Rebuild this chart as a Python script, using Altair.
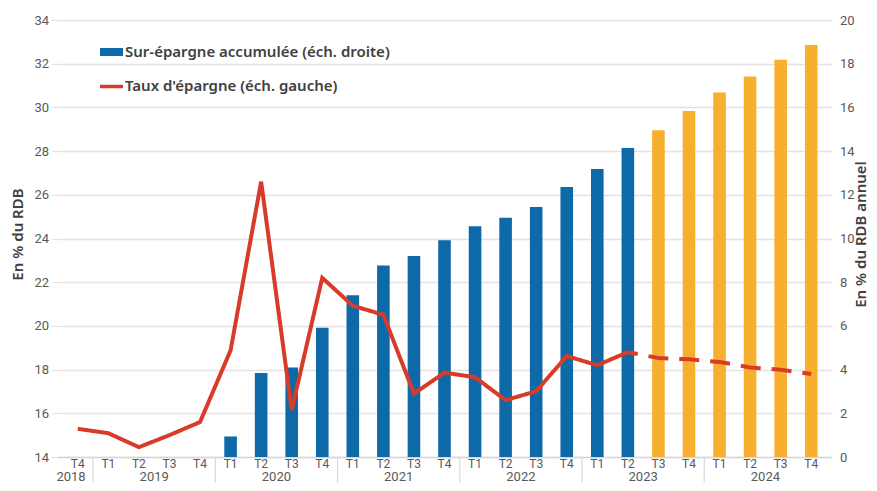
import altair as alt
import pandas as pd

# ---- data ----
quarters = ["T4",
            "T1", "T2", "T3", "T4",
            "T1", "T2", "T3", "T4",
            "T1", "T2", "T3", "T4",
            "T1", "T2", "T3", "T4",
            "T1", "T2", "T3", "T4",
            "T1", "T2", "T3", "T4"]
years = [2018] + [2019] * 4 + [2020] * 4 + [2021] * 4 + [2022] * 4 + [2023] * 4 + [2024] * 4

# Taux d'épargne (% du RDB, left scale)
taux = [15.29, 15.09, 14.45, 15.0, 15.6,
        18.88, 26.6, 16.15, 22.2,
        20.92, 20.51, 16.9, 17.86,
        17.65, 16.6, 17.01, 18.62,
        18.2, 18.8, 18.53, 18.47,
        18.35, 18.1, 17.99, 17.8]

# Sur-épargne accumulée (% du RDB annuel, right scale); None = no bar
sur_epargne = [None, None, None, None, None,
               0.94, 3.85, 4.1, 5.91,
               7.4, 8.76, 9.2, 9.92,
               10.56, 10.95, 11.44, 12.36,
               13.18, 14.14, 14.95, 15.83,
               16.68, 17.41, 18.18, 18.86]

first_forecast = 19          # 2023 T3: first projected quarter
last_observed_rate = 18      # 2023 T2: last observed savings rate

legend_labels = ["Sur-épargne accumulée (éch. droite)", "Taux d'épargne (éch. gauche)"]

BLUE = "#0E69A9"
ORANGE = "#F8AF2F"
RED = "#D93B29"
GRID = "#E3E3E3"
TXT = "#595959"
FONT = "Noto Sans"

W, H = 774, 437
n = len(quarters)

# ---- tables ----
bars_df = pd.DataFrame([
    {"idx": i, "val": v, "kind": "prev" if i >= first_forecast else "obs"}
    for i, v in enumerate(sur_epargne) if v is not None
])

line_rows = []
for i, v in enumerate(taux):
    if i <= last_observed_rate:
        line_rows.append({"idx": i, "taux": v, "seg": "a"})
    if i >= last_observed_rate:
        line_rows.append({"idx": i, "taux": v, "seg": "b"})
line_df = pd.DataFrame(line_rows)

q_df = pd.DataFrame({"idx": list(range(n)), "q": quarters})

yr_df = (pd.DataFrame({"idx": list(range(n)), "year": years})
         .groupby("year", as_index=False)["idx"].agg(["mean", "count"]).reset_index())
# a lone-quarter year label sits slightly left of its column, as in the source
yr_df["pos"] = yr_df["mean"] - 0.22 * (yr_df["count"] == 1)
yr_df["label"] = yr_df["year"].astype(str)

sep_df = pd.DataFrame({"pos": [i - 0.5 for i in range(1, n) if years[i] != years[i - 1]]})

x_scale = alt.Scale(domain=[-0.5, n - 0.5], nice=False, zero=False)
x_axis = alt.Axis(labels=False, ticks=False, grid=False, title=None,
                  domain=True, domainColor="#D6D6D6", domainWidth=1.5)

bars = alt.Chart(bars_df).mark_bar(size=12.6).encode(
    x=alt.X("idx:Q", scale=x_scale, axis=x_axis),
    y=alt.Y("val:Q", scale=alt.Scale(domain=[0, 20], nice=False, zero=True),
            axis=alt.Axis(orient="right", values=list(range(0, 21, 2)), grid=False,
                          ticks=False, domain=False, labelPadding=8,
                          labelColor=TXT, labelFont="Roboto", labelFontSize=13,
                          title="En % du RDB annuel", titleAngle=270,
                          titleX=28.5, titleY=214, titleBaseline="middle",
                          titleFont=FONT, titleFontSize=15, titleFontWeight=600,
                          titleColor="#404040")),
    color=alt.Color("kind:N", scale=alt.Scale(domain=["obs", "prev"], range=[BLUE, ORANGE]),
                    legend=None),
)

line = alt.Chart(line_df).mark_line(strokeWidth=4, strokeDashOffset=10).encode(
    x=alt.X("idx:Q", scale=x_scale, axis=x_axis),
    y=alt.Y("taux:Q", scale=alt.Scale(domain=[14, 34], nice=False, zero=False),
            axis=alt.Axis(orient="left", values=list(range(14, 35, 2)), grid=True,
                          gridColor=GRID, gridWidth=1.5, ticks=True, tickSize=6,
                          tickColor=GRID, domain=False, labelPadding=3,
                          labelColor=TXT, labelFont="Roboto", labelFontSize=13,
                          title="En % du RDB", titleAngle=270,
                          titleX=-40.5, titleY=214, titleBaseline="middle",
                          titleFont=FONT, titleFontSize=15, titleFontWeight=600,
                          titleColor="#404040")),
    detail="seg:N",
    strokeDash=alt.StrokeDash("seg:N", scale=alt.Scale(domain=["a", "b"], range=[[1, 0], [20, 11]]),
                              legend=None),
    order="idx:Q",
    color=alt.value(RED),
)

seps = alt.Chart(sep_df).mark_rule(color="#D9D9D9", strokeWidth=1.2).encode(
    x=alt.X("pos:Q", scale=x_scale, axis=x_axis),
    y=alt.value(H),
    y2=alt.value(H + 26),
)

q_text = alt.Chart(q_df).mark_text(font="Roboto", fontSize=12, color=TXT, baseline="alphabetic").encode(
    x=alt.X("idx:Q", scale=x_scale, axis=x_axis),
    y=alt.value(H + 10.5),
    text="q:N",
)

yr_text = alt.Chart(yr_df).mark_text(font="Roboto", fontSize=13, color=TXT, baseline="alphabetic").encode(
    x=alt.X("pos:Q", scale=x_scale, axis=x_axis),
    y=alt.value(H + 24),
    text="label:N",
)

leg_df = pd.DataFrame({"label": legend_labels, "k": [0, 1]})
leg_rect = alt.Chart(leg_df.iloc[[0]]).mark_rect(color=BLUE).encode(
    x=alt.value(42.5), x2=alt.value(65.5), y=alt.value(28), y2=alt.value(36))
leg_line = alt.Chart(leg_df.iloc[[1]]).mark_rule(color=RED, strokeWidth=3.5).encode(
    x=alt.value(42.5), x2=alt.value(65.5), y=alt.value(66.5))
leg_t1 = alt.Chart(leg_df.iloc[[0]]).mark_text(align="left", baseline="middle", font=FONT,
                                              fontSize=15, fontWeight=600, color="#404040").encode(
    x=alt.value(67.5), y=alt.value(31.5), text="label:N")
leg_t2 = alt.Chart(leg_df.iloc[[1]]).mark_text(align="left", baseline="middle", font=FONT,
                                              fontSize=15, fontWeight=600, color="#404040").encode(
    x=alt.value(67.5), y=alt.value(65.5), text="label:N")

chart = alt.layer(
    bars, line, seps, q_text, yr_text, leg_rect, leg_line, leg_t1, leg_t2
).resolve_scale(
    y="independent"
).properties(
    width=W, height=H,
    autosize=alt.AutoSizeParams(type="none"),
    padding={"left": 49.5, "top": 12, "right": 37.5, "bottom": 26},
    background="white",
).configure_view(stroke=None)

chart.save("out.html", embed_options={"renderer": "svg", "actions": False})
